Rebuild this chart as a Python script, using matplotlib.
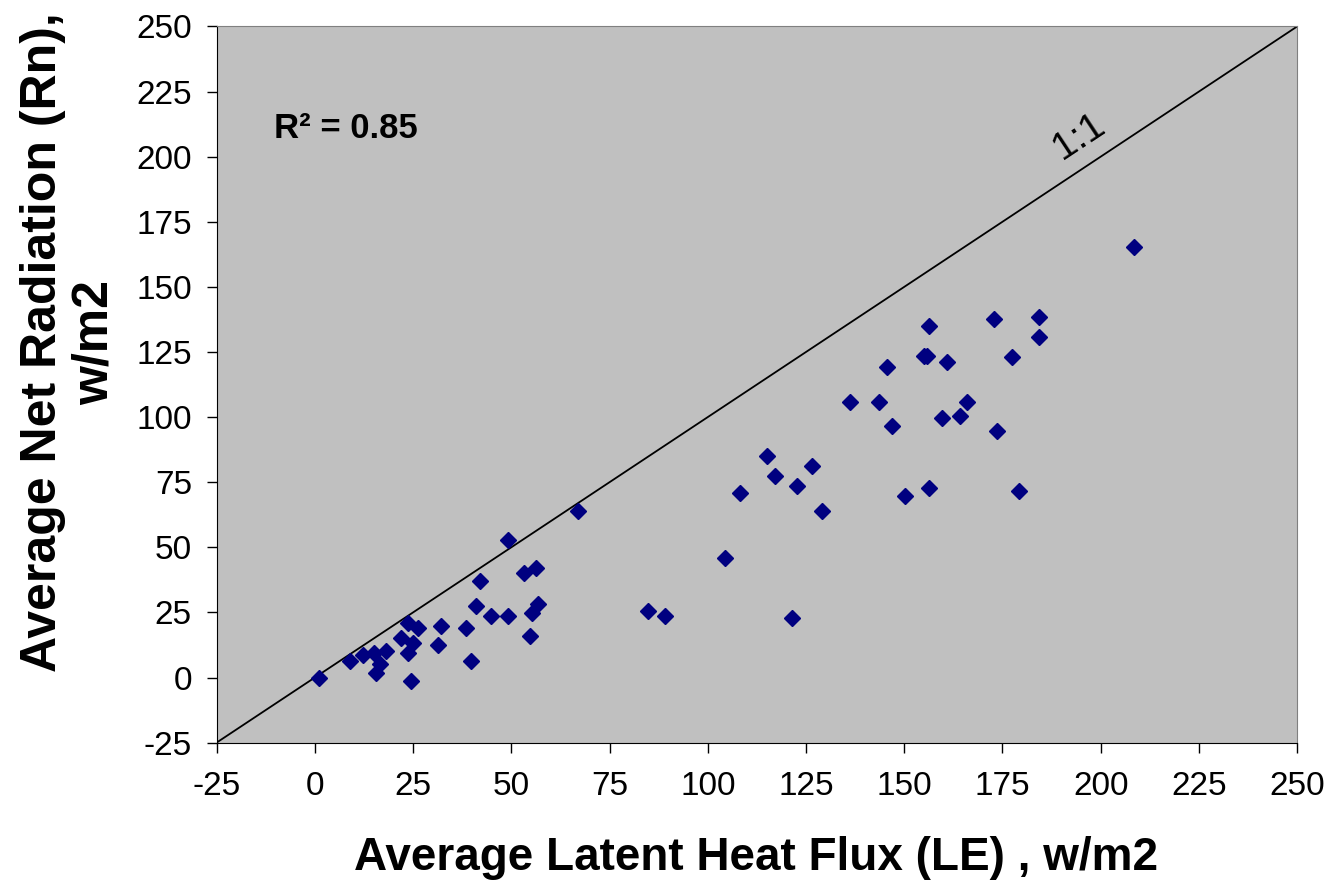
import matplotlib.pyplot as plt

plt.rcParams["font.family"] = ["Liberation Sans", "DejaVu Sans"]
plt.rcParams["axes.unicode_minus"] = False

# -----------------------------
# Data
# -----------------------------

latent_heat = [
    1, 9, 12.3, 15, 18.1, 16.6, 15.6, 21.8, 23.8, 26.3,
    25.1, 23.8, 24.4, 31.4, 32.0, 38.4, 39.7, 40.9, 42.1, 44.8,
    49.2, 49.2, 53.2, 56.2, 56.9, 55.3, 54.8, 66.9,
    115.2, 117.1, 108.2, 126.6, 122.8, 129.2, 104.4, 84.7, 89.1, 121.5,
    150.1, 156.4, 147.0, 208.5, 156.4, 172.9, 184.3, 184.3, 155.0, 155.8,
    160.8, 177.4, 145.7, 136.1, 143.7, 165.9, 159.7, 164.1, 173.6, 179.3,
]

net_radiation = [
    0, 6.5, 8.7, 9.3, 10.3, 5.2, 1.9, 15.3, 21.1, 19.2,
    13.4, 9.3, -1.2, 12.5, 19.9, 18.9, 6.5, 27.6, 37.2, 23.8,
    23.8, 52.7, 40.3, 42.0, 28.1, 24.7, 16.1, 64.1,
    85.1, 77.4, 70.8, 81.3, 73.6, 64.1, 45.8, 25.7, 23.8, 22.8,
    69.8, 72.7, 96.5, 165.5, 134.8, 137.7, 138.6, 130.9, 123.3, 123.6,
    121.3, 123.2, 119.4, 105.9, 105.9, 105.9, 99.6, 100.5, 94.7, 71.8,
]

one_to_one = [-25, 250]

ticks = [-25, 0, 25, 50, 75, 100, 125, 150, 175, 200, 225, 250]

# -----------------------------
# Figure
# -----------------------------

fig = plt.figure(figsize=(13.29, 8.83), dpi=100)

ax = fig.add_axes([0.163, 0.159, 0.813, 0.811])

ax.set_facecolor("#C0C0C0")

ax.plot(one_to_one, one_to_one, color="black", linewidth=1.3)

ax.plot(
    latent_heat,
    net_radiation,
    linestyle="none",
    marker="D",
    markersize=8.5,
    color="#000080",
)

ax.set_xlim(-25, 250)
ax.set_ylim(-25, 250)

ax.set_xticks(ticks)
ax.set_yticks(ticks)

ax.tick_params(direction="out", length=7, width=1, labelsize=24)
ax.tick_params(axis="x", pad=13.5)
ax.tick_params(axis="y", pad=10.8)

for side in ["top", "right"]:
    ax.spines[side].set_color("#808080")

for side in ["left", "bottom"]:
    ax.spines[side].set_color("black")

ax.text(
    -10.5, 211,
    "R² = 0.85",
    fontsize=25,
    fontweight="bold",
    va="center",
)

ax.text(
    194.5, 207.6,
    "1:1",
    fontsize=28,
    rotation=33.5,
    ha="center",
    va="center",
)

fig.text(
    0.569, 0.028,
    "Average Latent Heat Flux (LE) , w/m2",
    fontsize=33,
    fontweight="bold",
    ha="center",
    va="center",
)

fig.text(
    0.052, 0.612,
    "Average Net Radiation (Rn),\nw/m2",
    fontsize=36,
    fontweight="bold",
    rotation=90,
    ha="center",
    va="center",
    multialignment="center",
    linespacing=1.15,
)

fig.savefig("out.png", dpi=100)

plt.close()
